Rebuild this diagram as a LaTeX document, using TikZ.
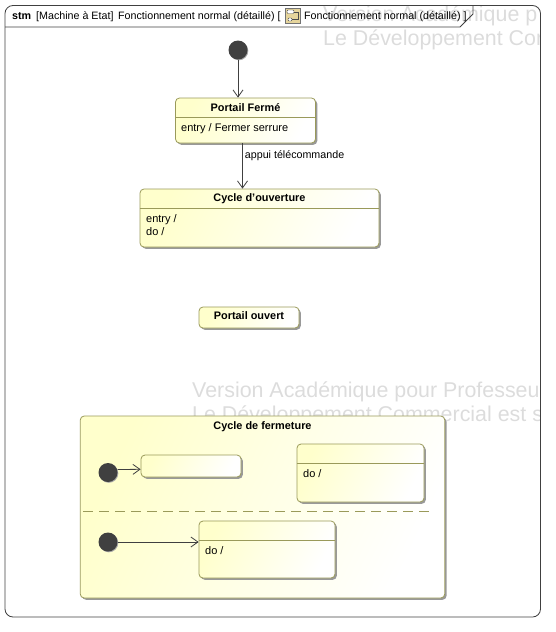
\documentclass[tikz,border=0pt]{standalone}
\usepackage{fontspec}
\setmainfont{Liberation Sans}
\usetikzlibrary{shadows,arrows.meta}
\definecolor{stateline}{HTML}{9A9A5A}
\definecolor{statefill}{HTML}{FFFFCC}
\definecolor{frameline}{HTML}{404040}
\definecolor{markgray}{HTML}{DCDCDC}
\definecolor{icontan}{HTML}{E6D59C}
\begin{document}
\begin{tikzpicture}[x=1pt, y=-1pt, node distance=50pt]
\tikzstyle{block} = [draw=stateline, rectangle, rounded corners=4pt, line width=0.8pt, left color=statefill, middle color=statefill!45, right color=white, shading angle=65, drop shadow={shadow xshift=1.8pt, shadow yshift=-1.8pt, fill=black!40, opacity=1}, inner sep=0pt]
\tikzstyle{start} = [circle, fill=black!75, minimum size=19pt, inner sep=0pt, drop shadow={shadow xshift=0.8pt, shadow yshift=-0.8pt, fill=black!35, opacity=1}]
\tikzstyle{statename} = [font=\fontsize{10.9}{12}\selectfont\bfseries, inner sep=0pt, minimum height=19.5pt]
\tikzstyle{statebody} = [font=\fontsize{11}{13}\selectfont, inner sep=0pt, align=left, anchor=north west]
\tikzstyle{line} = [draw=frameline, line width=0.8pt, -{Straight Barb[length=7pt, width=10pt]}]
\tikzstyle{watermark} = [font=\fontsize{21.4}{24}\selectfont, text=markgray, inner sep=0pt, anchor=base west]
\tikzstyle{titletext} = [font=\fontsize{10.7}{12}\selectfont, inner sep=0pt, anchor=base west]
\useasboundingbox (0,0) rectangle (555,632);

% frame and watermark
\coordinate (framenw) at (5,5.5);
\coordinate (framese) at (540.5,617);
\begin{scope}
\clip [rounded corners=8pt] (framenw) rectangle (framese);
\node [watermark] (mark1) at (323,21) {Version Académique p};
\node [watermark] (mark2) at (323,45) {Le Développement Cor};
\node [watermark] (mark3) at (192,397) {Version Académique pour Professeu};
\node [watermark] (mark4) at (192,421) {Le Développement Commercial est s};
\end{scope}
\draw [frameline, line width=0.8pt, rounded corners=8pt] (framenw) rectangle (framese);
\draw [frameline, line width=0.8pt] (5,27) -- (460,27) -- (473,14) -- (473,5.5);

% title
\node [titletext, font=\fontsize{10.7}{12}\selectfont\bfseries] (stm) at (12,19) {stm};
\node [titletext] (kind) at (36,19) {[Machine à Etat]};
\node [titletext] (title) at (118,19) {Fonctionnement normal (détaillé) [};
\node [draw=black!55, fill=icontan, minimum width=15pt, minimum height=15pt, inner sep=0pt] (icon) at (292.5,15.5) {};
\draw [black!70, fill=white, rounded corners=1pt] (287,10) rectangle (294,13.5);
\draw [black!70, fill=white, rounded corners=1pt] (288,18) rectangle (292,21);
\draw [black!70] (294,12) -- (298,12) -- (298,19.5) -- (292,19.5);
\node [titletext] (title2) at (304,19) {Fonctionnement normal (détaillé) ]};

% top states
\node [start] (init) at (238,50) {};
\node [block, minimum width=140pt, minimum height=45pt, below of=init, node distance=70.5pt, xshift=7.5pt] (ferme) {};
\node [statename, anchor=north] (fermename) at (ferme.north) {Portail Fermé};
\node [statebody] (fermebody) at (181,123) {entry / Fermer serrure};
\draw [stateline, line width=0.8pt] (ferme.west |- fermename.south) -- (ferme.east |- fermename.south);
\node [block, minimum width=239pt, minimum height=58pt, below of=ferme, node distance=97.5pt, xshift=14pt] (ouverture) {};
\node [statename, anchor=north] (ouverturename) at (ouverture.north) {Cycle d'ouverture};
\node [statebody] (ouverturebody) at (146,214) {entry /\\do /};
\draw [stateline, line width=0.8pt] (ouverture.west |- ouverturename.south) -- (ouverture.east |- ouverturename.south);
\node [block, minimum width=100pt, minimum height=21pt, below of=ouverture, node distance=99.5pt, xshift=-10.5pt] (ouvert) {};
\node [statename, anchor=north, minimum height=17pt] (ouvertname) at (ouvert.north) {Portail ouvert};

\path [line] (init) -- (init |- ferme.north);
\path [line] ([xshift=-3pt]ferme.south) -- node [right, font=\fontsize{10.7}{12}\selectfont, inner sep=2pt, yshift=10pt] (appui) {appui télécommande} ([xshift=-3pt]ferme.south |- ouverture.north);

% composite state
\node [block, minimum width=364.5pt, minimum height=182pt] (fermeture) at (262.5,507) {};
\node [statename, anchor=north, minimum height=21pt] (fermeturename) at (fermeture.north) {Cycle de fermeture};
\draw [stateline, line width=0.8pt, dash pattern=on 10pt off 6pt] (83,511) -- (434,511);

\node [start] (init2) at (108,472.5) {};
\node [block, minimum width=100pt, minimum height=22pt] (sub1) at (191,466) {};
\node [block, minimum width=127pt, minimum height=58pt] (sub2) at (360.5,473) {};
\node [statename, anchor=north] (sub2name) at (sub2.north) {};
\node [statebody] (sub2body) at (303,469) {do /};
\draw [stateline, line width=0.8pt] (sub2.west |- sub2name.south) -- (sub2.east |- sub2name.south);

\node [start] (init3) at (108,542) {};
\node [block, minimum width=136pt, minimum height=57pt] (sub3) at (267,549.5) {};
\node [statename, anchor=north] (sub3name) at (sub3.north) {};
\node [statebody] (sub3body) at (205,546) {do /};
\draw [stateline, line width=0.8pt] (sub3.west |- sub3name.south) -- (sub3.east |- sub3name.south);

\path [line] ([yshift=3pt]init2.east) -- ([yshift=-3.3pt]sub1.west);
\path [line] (init3.east) -- (init3.east -| sub3.west);

\end{tikzpicture}
\end{document}
